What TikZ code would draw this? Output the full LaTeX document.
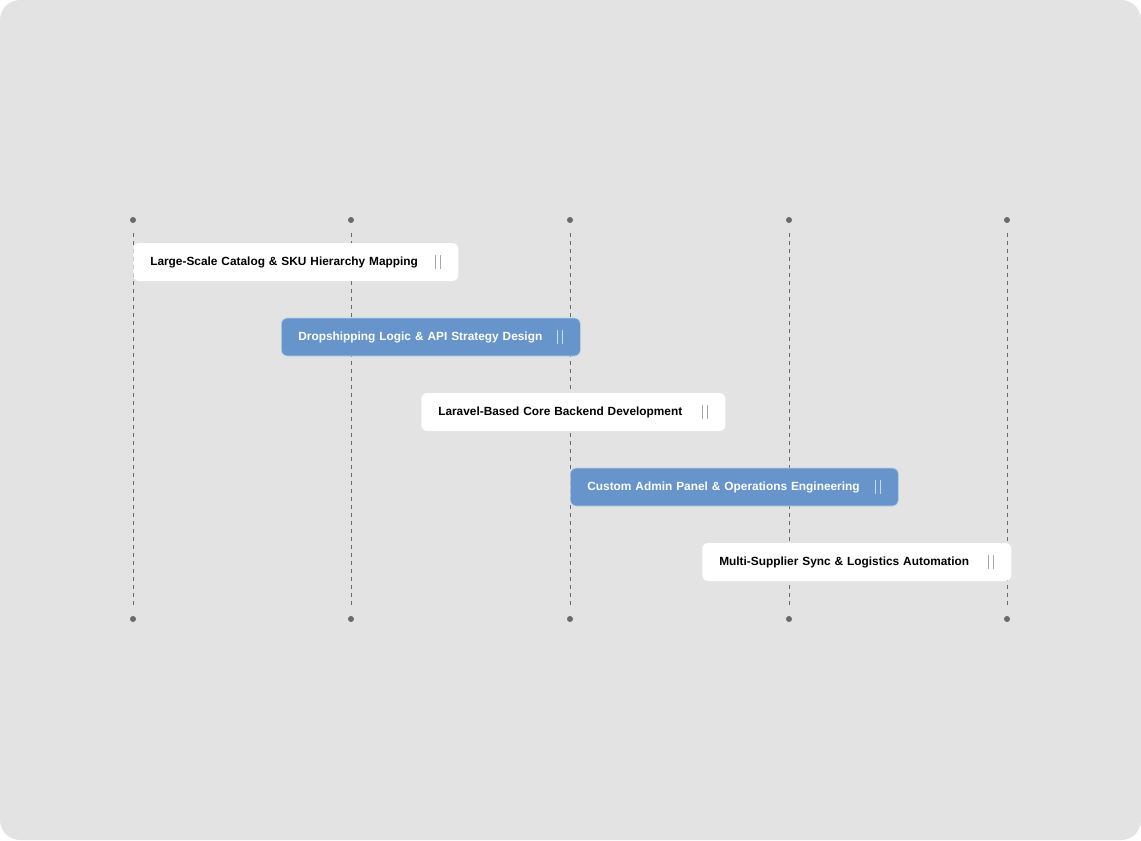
\documentclass[tikz,border=0pt]{standalone}
\usepackage{fontspec}
\setmainfont{Liberation Sans}
\usetikzlibrary{positioning}

\definecolor{bgpanel}{HTML}{E3E3E3}
\definecolor{taskblue}{HTML}{6694CB}
\definecolor{guide}{HTML}{6A6A6A}

\begin{document}
\begin{tikzpicture}[x=0.75pt, y=-0.75pt,
	every node/.style={font=\bfseries\fontsize{8.9}{10}\selectfont},
	dot/.style={circle, fill=guide, inner sep=0pt, minimum size=4.5pt},
	guideline/.style={draw=guide, dash pattern=on 3pt off 3pt, line width=0.6pt, shorten <=7.5pt, shorten >=7.5pt},
	taskbox/.style={rounded corners=4.5pt, minimum height=28.5pt, inner xsep=12.75pt, text depth=0.6pt, anchor=west, align=left},
	whitetask/.style={taskbox, fill=white, text=black},
	bluetask/.style={taskbox, fill=taskblue, draw=white!55!taskblue, line width=0.5pt, text=white},
	handle/.style={line width=0.6pt}]
	% panel
	\fill[white] (0,0) rectangle (1141,840);
	\fill[bgpanel, rounded corners=15pt] (0,0) rectangle (1141,840);
	% guide lines
	\foreach \x [count=\i] in {133,351,570,789,1007} {
		\node[dot] (top\i) at (\x,220) {};
		\node[dot] (bot\i) at (\x,619) {};
		\draw[guideline] (top\i) -- (bot\i);
	}
	% tasks
	\node[whitetask, text width=218.25pt] (catalog) at (133,262) {Large-Scale Catalog \& SKU Hierarchy Mapping};
	\node[bluetask, text width=198.75pt] (dropship) at (281,337) {Dropshipping Logic \& API Strategy Design};
	\node[whitetask, text width=202.5pt] (backend) at (421,412) {Laravel-Based Core Backend Development};
	\node[bluetask, text width=220.5pt] (admin) at (570,487) {Custom Admin Panel \& Operations Engineering};
	\node[whitetask, text width=206.25pt] (sync) at (702,562) {Multi-Supplier Sync \& Logistics Automation};
	% drag handles
	\foreach \n/\c in {catalog/gray!70, dropship/white!65!taskblue, backend/gray!70, admin/white!65!taskblue, sync/gray!70} {
		\draw[handle, \c] ([xshift=-17.25pt, yshift=5.25pt]\n.east) -- ++(0,14);
		\draw[handle, \c] ([xshift=-13.5pt, yshift=5.25pt]\n.east) -- ++(0,14);
	}
\end{tikzpicture}
\end{document}
